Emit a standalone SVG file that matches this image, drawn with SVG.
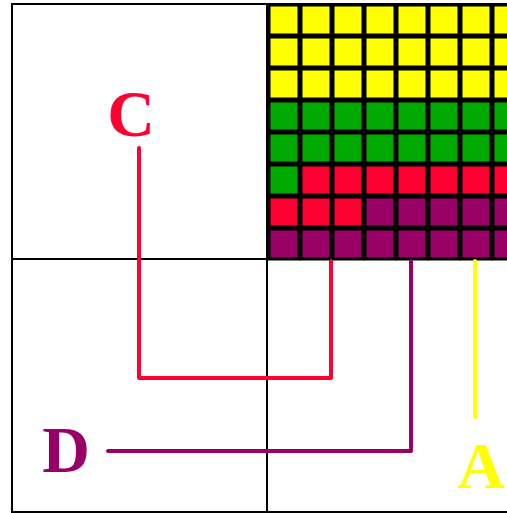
<svg xmlns="http://www.w3.org/2000/svg" width="507" height="513" viewBox="0 0 507 513">
<style>
.frame{fill:none;stroke:#000;stroke-width:2}
.cell{stroke:#000;stroke-width:3}
.y{fill:#FFFF00}.g{fill:#00AA00}.r{fill:#FF0033}.p{fill:#990066}
.conn{fill:none;stroke-width:4;stroke-linejoin:round;stroke-linecap:round}
.lbl{font-family:"Liberation Serif",serif;font-weight:bold;font-size:66px;text-anchor:middle}
</style>
<rect width="507" height="513" fill="#fff"/>
<g id="frame">
<rect class="frame" x="12" y="4" width="520" height="508"/>
<line class="frame" x1="267" y1="4" x2="267" y2="513"/>
<line class="frame" x1="12" y1="259" x2="507" y2="259"/>
</g>
<g id="grid">
<g id="row0"><rect class="cell y" x="269" y="5" width="30" height="30"/><rect class="cell y" x="301" y="5" width="30" height="30"/><rect class="cell y" x="333" y="5" width="30" height="30"/><rect class="cell y" x="365" y="5" width="30" height="30"/><rect class="cell y" x="397" y="5" width="30" height="30"/><rect class="cell y" x="429" y="5" width="30" height="30"/><rect class="cell y" x="461" y="5" width="30" height="30"/><rect class="cell y" x="493" y="5" width="30" height="30"/></g>
<g id="row1"><rect class="cell y" x="269" y="37" width="30" height="30"/><rect class="cell y" x="301" y="37" width="30" height="30"/><rect class="cell y" x="333" y="37" width="30" height="30"/><rect class="cell y" x="365" y="37" width="30" height="30"/><rect class="cell y" x="397" y="37" width="30" height="30"/><rect class="cell y" x="429" y="37" width="30" height="30"/><rect class="cell y" x="461" y="37" width="30" height="30"/><rect class="cell y" x="493" y="37" width="30" height="30"/></g>
<g id="row2"><rect class="cell y" x="269" y="69" width="30" height="30"/><rect class="cell y" x="301" y="69" width="30" height="30"/><rect class="cell y" x="333" y="69" width="30" height="30"/><rect class="cell y" x="365" y="69" width="30" height="30"/><rect class="cell y" x="397" y="69" width="30" height="30"/><rect class="cell y" x="429" y="69" width="30" height="30"/><rect class="cell y" x="461" y="69" width="30" height="30"/><rect class="cell y" x="493" y="69" width="30" height="30"/></g>
<g id="row3"><rect class="cell g" x="269" y="101" width="30" height="30"/><rect class="cell g" x="301" y="101" width="30" height="30"/><rect class="cell g" x="333" y="101" width="30" height="30"/><rect class="cell g" x="365" y="101" width="30" height="30"/><rect class="cell g" x="397" y="101" width="30" height="30"/><rect class="cell g" x="429" y="101" width="30" height="30"/><rect class="cell g" x="461" y="101" width="30" height="30"/><rect class="cell g" x="493" y="101" width="30" height="30"/></g>
<g id="row4"><rect class="cell g" x="269" y="133" width="30" height="30"/><rect class="cell g" x="301" y="133" width="30" height="30"/><rect class="cell g" x="333" y="133" width="30" height="30"/><rect class="cell g" x="365" y="133" width="30" height="30"/><rect class="cell g" x="397" y="133" width="30" height="30"/><rect class="cell g" x="429" y="133" width="30" height="30"/><rect class="cell g" x="461" y="133" width="30" height="30"/><rect class="cell g" x="493" y="133" width="30" height="30"/></g>
<g id="row5"><rect class="cell g" x="269" y="165" width="30" height="30"/><rect class="cell r" x="301" y="165" width="30" height="30"/><rect class="cell r" x="333" y="165" width="30" height="30"/><rect class="cell r" x="365" y="165" width="30" height="30"/><rect class="cell r" x="397" y="165" width="30" height="30"/><rect class="cell r" x="429" y="165" width="30" height="30"/><rect class="cell r" x="461" y="165" width="30" height="30"/><rect class="cell r" x="493" y="165" width="30" height="30"/></g>
<g id="row6"><rect class="cell r" x="269" y="197" width="30" height="30"/><rect class="cell r" x="301" y="197" width="30" height="30"/><rect class="cell r" x="333" y="197" width="30" height="30"/><rect class="cell p" x="365" y="197" width="30" height="30"/><rect class="cell p" x="397" y="197" width="30" height="30"/><rect class="cell p" x="429" y="197" width="30" height="30"/><rect class="cell p" x="461" y="197" width="30" height="30"/><rect class="cell p" x="493" y="197" width="30" height="30"/></g>
<g id="row7"><rect class="cell p" x="269" y="229" width="30" height="30"/><rect class="cell p" x="301" y="229" width="30" height="30"/><rect class="cell p" x="333" y="229" width="30" height="30"/><rect class="cell p" x="365" y="229" width="30" height="30"/><rect class="cell p" x="397" y="229" width="30" height="30"/><rect class="cell p" x="429" y="229" width="30" height="30"/><rect class="cell p" x="461" y="229" width="30" height="30"/><rect class="cell p" x="493" y="229" width="30" height="30"/></g>
</g>
<g id="connectors">
<path class="conn" stroke="#FF0033" d="M139,148 V378 H331 V261"/>
<path class="conn" stroke="#990066" d="M108,451 H411 V261" stroke-linecap="round"/>
<path class="conn" stroke="#FFFF00" d="M475,261 V417" stroke-linecap="butt"/>
</g>
<g id="C"><text class="lbl" x="131" y="136" fill="#FF0033">C</text></g>
<g id="D"><text class="lbl" x="66" y="472" fill="#990066">D</text></g>
<g id="A"><text class="lbl" x="481" y="488" fill="#FFFF00">A</text></g>
</svg>
